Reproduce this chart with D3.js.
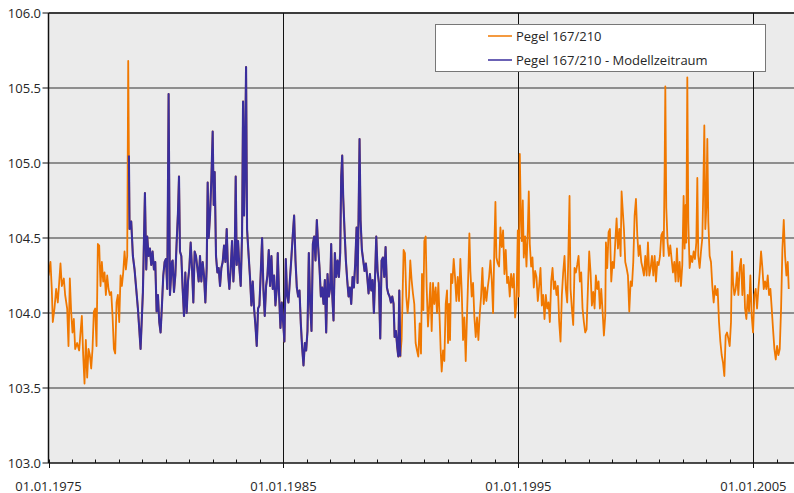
<!DOCTYPE html>
<html lang="de">
<head>
    <meta charset="UTF-8">
    <title>Pegel 167/210</title>
    <script src="https://d3js.org/d3.v7.min.js"></script>
    <style>
        body {
            margin: 0;
            background-color: #ffffff;
            font-family: "Open Sans", Arial, sans-serif;
        }
        svg text {
            fill: #262626;
        }
    </style>
</head>
<body>
    <div id="chart"></div>

    <script>
        // Wasserstand Pegel 167/210 [Jahr, m]
        const pegel = [
            [1975.000,104.25],[1975.084,104.34],[1975.140,104.16],[1975.183,103.94],[1975.254,104.03],[1975.325,104.16],[1975.396,104.07],[1975.510,104.33],
            [1975.567,104.18],[1975.652,104.23],[1975.709,104.12],[1975.794,104.03],[1975.851,103.78],[1975.908,104.23],[1975.964,104.01],[1976.021,103.87],
            [1976.078,103.96],[1976.135,103.76],[1976.220,103.80],[1976.305,103.75],[1976.362,103.87],[1976.419,103.98],[1976.476,103.72],[1976.533,103.53],
            [1976.589,103.82],[1976.646,103.57],[1976.703,103.76],[1976.760,103.72],[1976.817,103.63],[1976.873,103.76],[1976.930,104.01],[1976.987,104.03],
            [1977.044,103.78],[1977.101,104.46],[1977.158,104.45],[1977.214,104.18],[1977.271,104.34],[1977.328,104.21],[1977.385,104.27],[1977.442,104.12],
            [1977.498,104.25],[1977.555,104.16],[1977.612,104.12],[1977.669,104.14],[1977.726,103.98],[1977.783,103.76],[1977.839,103.73],[1977.896,104.07],
            [1977.953,104.12],[1978.010,103.94],[1978.067,104.25],[1978.123,104.18],[1978.180,104.27],[1978.237,104.41],[1978.294,104.29],[1978.351,104.38],
            [1978.393,105.68],[1978.422,105.05],[1978.450,104.56],[1978.521,104.61],[1978.592,104.38],[1978.663,104.29],[1978.734,104.16],[1978.805,104.03],
            [1978.919,103.76],[1979.018,104.14],[1979.104,104.80],[1979.160,104.29],[1979.203,104.51],[1979.260,104.38],[1979.317,104.43],[1979.373,104.32],
            [1979.430,104.41],[1979.487,104.29],[1979.544,104.34],[1979.601,104.01],[1979.658,104.12],[1979.714,103.94],[1979.771,103.87],[1979.828,104.05],
            [1979.885,104.25],[1979.942,104.34],[1979.998,104.36],[1980.055,104.16],[1980.112,105.46],[1980.169,104.12],[1980.254,104.34],
            [1980.284,104.35],[1980.340,104.14],[1980.397,104.25],[1980.454,104.47],[1980.511,104.67],[1980.554,104.91],[1980.596,104.41],[1980.653,104.38],
            [1980.710,104.16],[1980.767,103.98],[1980.823,104.27],[1980.880,104.00],[1980.937,104.21],[1980.994,104.30],[1981.051,104.47],[1981.108,104.30],
            [1981.164,104.07],[1981.221,104.41],[1981.278,104.38],[1981.335,104.30],[1981.392,104.21],[1981.448,104.38],[1981.505,104.21],[1981.562,104.34],
            [1981.619,104.25],[1981.676,104.07],[1981.733,104.30],[1981.775,104.87],[1981.818,104.50],[1981.875,104.65],[1981.931,104.89],[1981.988,105.21],
            [1982.031,104.72],[1982.073,104.94],[1982.130,104.38],[1982.187,104.27],[1982.244,104.30],[1982.301,104.18],[1982.358,104.30],[1982.414,104.34],
            [1982.471,104.45],[1982.528,104.34],[1982.585,104.56],[1982.642,104.27],[1982.698,104.16],[1982.755,104.30],[1982.812,104.48],[1982.869,104.21],
            [1982.926,104.38],[1982.968,104.91],[1983.011,104.32],[1983.068,104.48],[1983.125,104.30],[1983.181,104.18],[1983.238,104.52],[1983.281,105.41],
            [1983.323,104.65],[1983.366,105.05],[1983.409,105.64],[1983.451,104.56],[1983.508,104.41],[1983.579,104.23],[1983.636,104.05],[1983.693,104.21],
            [1983.750,104.03],[1983.806,103.92],[1983.863,103.78],[1983.920,104.03],[1983.977,104.05],[1984.034,104.27],[1984.091,104.50],[1984.147,104.16],
            [1984.204,103.98],[1984.261,104.18],[1984.318,104.25],[1984.375,104.42],[1984.431,104.18],[1984.488,104.38],[1984.545,104.16],[1984.602,104.25],
            [1984.659,104.05],[1984.715,104.16],[1984.758,104.40],[1984.815,104.12],[1984.872,103.90],[1984.929,104.07],[1984.985,103.94],[1985.042,103.81],
            [1985.099,104.36],[1985.156,104.12],[1985.213,104.07],[1985.270,104.21],[1985.326,104.34],[1985.397,104.52],[1985.454,104.65],
            [1985.512,104.35],[1985.569,104.17],[1985.626,104.11],[1985.683,104.15],[1985.739,103.93],[1985.796,103.77],[1985.853,103.65],[1985.910,103.80],
            [1985.967,103.75],[1986.023,103.88],[1986.080,104.40],[1986.137,104.06],[1986.194,103.88],[1986.251,104.46],[1986.308,104.51],[1986.364,104.35],
            [1986.421,104.62],[1986.478,104.44],[1986.535,104.30],[1986.592,104.11],[1986.648,104.17],[1986.705,104.06],[1986.762,104.22],[1986.819,103.87],
            [1986.876,104.26],[1986.933,104.11],[1986.989,104.17],[1987.032,104.46],[1987.074,104.13],[1987.131,103.95],[1987.188,104.40],[1987.245,104.24],
            [1987.302,104.35],[1987.359,104.24],[1987.415,104.40],[1987.458,104.91],[1987.501,105.05],[1987.543,104.77],[1987.600,104.55],[1987.657,104.35],
            [1987.714,104.22],[1987.771,104.11],[1987.827,104.17],[1987.884,104.06],[1987.941,104.24],[1987.998,104.17],[1988.055,104.33],[1988.112,104.57],
            [1988.154,104.20],[1988.197,104.64],[1988.239,105.16],[1988.282,104.62],[1988.339,104.42],[1988.396,104.35],[1988.452,104.28],[1988.509,104.33],
            [1988.566,104.24],[1988.623,104.13],[1988.680,104.26],[1988.737,104.15],[1988.793,104.22],[1988.850,104.00],[1988.907,104.28],[1988.950,104.51],
            [1989.006,104.28],[1989.063,104.20],[1989.120,103.83],[1989.177,104.35],[1989.234,104.37],[1989.291,104.24],[1989.347,104.44],[1989.404,104.17],
            [1989.461,104.13],[1989.518,104.11],[1989.575,104.07],[1989.631,104.11],[1989.688,104.06],[1989.731,103.84],[1989.788,103.88],[1989.844,103.77],
            [1989.887,103.71],[1989.930,104.15],[1989.972,103.71],
            [1990.029,103.82],[1990.114,104.42],[1990.171,104.40],[1990.228,104.11],[1990.285,104.00],[1990.342,104.11],[1990.398,104.35],[1990.455,104.22],
            [1990.512,104.13],[1990.569,104.06],[1990.626,103.80],[1990.684,103.75],[1990.740,103.71],[1990.797,103.93],[1990.854,103.73],[1990.897,104.26],
            [1990.954,104.02],[1990.996,104.48],[1991.053,104.51],[1991.096,104.17],[1991.152,103.91],[1991.209,104.06],[1991.252,104.20],[1991.309,103.88],
            [1991.365,104.20],[1991.422,104.06],[1991.479,104.17],[1991.536,104.00],[1991.593,104.20],[1991.650,103.95],[1991.692,103.75],[1991.735,103.61],
            [1991.792,103.75],[1991.848,103.68],[1991.905,104.06],[1991.962,104.15],[1992.005,103.80],[1992.047,104.06],[1992.090,103.82],[1992.133,104.26],
            [1992.189,104.20],[1992.246,104.36],[1992.303,104.24],[1992.360,104.08],[1992.417,104.24],[1992.473,104.08],[1992.530,104.36],[1992.587,104.15],
            [1992.644,103.82],[1992.701,103.97],[1992.758,103.68],[1992.814,103.99],[1992.871,104.28],[1992.914,104.53],[1992.956,104.28],[1993.013,104.11],
            [1993.070,104.20],[1993.127,103.97],[1993.184,103.84],[1993.240,103.97],[1993.297,103.82],[1993.354,103.99],[1993.411,104.11],[1993.468,104.30],
            [1993.525,104.06],[1993.581,104.17],[1993.638,104.08],[1993.695,104.17],[1993.752,104.24],[1993.809,104.35],[1993.866,104.22],[1993.922,104.00],
            [1993.979,104.46],[1994.022,104.74],[1994.064,104.37],[1994.121,104.33],[1994.178,104.31],[1994.235,104.57],[1994.292,104.44],[1994.348,104.55],
            [1994.405,104.26],[1994.462,104.42],[1994.519,104.20],[1994.576,104.24],[1994.633,104.11],[1994.689,104.26],[1994.746,104.17],[1994.803,104.26],
            [1994.860,103.97],[1994.917,104.06],[1994.974,104.55],[1995.016,104.11],[1995.059,105.06],[1995.101,104.68],[1995.144,104.48],[1995.187,104.75],
            [1995.229,104.37],[1995.286,104.51],[1995.343,104.31],[1995.400,104.55],[1995.442,104.81],[1995.485,104.46],[1995.542,104.31],[1995.599,104.37],
            [1995.655,104.17],[1995.712,104.28],[1995.769,104.24],[1995.826,104.08],
            [1995.884,104.18],[1995.940,104.30],[1995.997,104.05],[1996.054,104.12],[1996.111,103.96],[1996.168,104.12],[1996.225,104.03],[1996.281,104.07],
            [1996.338,103.94],[1996.395,104.21],[1996.452,104.30],[1996.509,104.16],[1996.565,104.21],[1996.622,104.12],[1996.679,104.18],[1996.736,103.94],
            [1996.793,103.81],[1996.850,104.12],[1996.906,104.27],[1996.963,104.38],[1997.020,104.16],[1997.077,104.07],[1997.119,104.34],[1997.176,104.78],
            [1997.219,104.16],[1997.276,104.03],[1997.333,103.92],[1997.389,104.30],[1997.446,104.27],[1997.503,104.32],[1997.560,104.38],[1997.617,104.21],
            [1997.673,104.27],[1997.730,104.03],[1997.787,103.94],[1997.844,103.87],[1997.901,103.89],[1997.958,104.16],[1998.014,104.41],[1998.071,104.27],
            [1998.128,104.05],[1998.185,104.14],[1998.242,104.03],[1998.298,104.25],[1998.355,104.16],[1998.412,104.21],[1998.469,104.03],[1998.526,104.16],
            [1998.583,104.01],[1998.639,103.85],[1998.696,103.98],[1998.725,104.47],[1998.781,104.30],[1998.838,104.54],[1998.895,104.56],[1998.952,104.21],
            [1999.009,104.34],[1999.066,104.30],[1999.122,104.47],[1999.179,104.63],[1999.236,104.43],[1999.293,104.56],[1999.350,104.38],[1999.392,104.81],
            [1999.435,104.70],[1999.492,104.56],[1999.548,104.34],[1999.605,104.30],[1999.662,104.25],[1999.719,104.01],[1999.776,104.21],[1999.833,104.18],
            [1999.889,104.34],[1999.946,104.65],[2000.003,104.76],[2000.060,104.52],[2000.117,104.38],[2000.173,104.45],[2000.230,104.34],[2000.287,104.30],
            [2000.344,104.25],[2000.401,104.38],[2000.458,104.25],[2000.514,104.47],[2000.571,104.25],[2000.628,104.30],[2000.685,104.38],[2000.742,104.25],
            [2000.799,104.38],[2000.855,104.21],[2000.912,104.34],[2000.969,104.32],[2001.026,104.38],[2001.083,104.52],[2001.140,104.54],[2001.182,104.38],
            [2001.225,104.98],[2001.253,105.51],
            [2001.294,104.70],[2001.350,104.47],[2001.407,104.38],[2001.464,104.45],[2001.521,104.36],[2001.578,104.27],[2001.635,104.34],[2001.691,104.21],
            [2001.748,104.43],[2001.805,104.21],[2001.862,104.34],[2001.919,104.18],[2001.975,104.32],[2002.032,104.78],[2002.075,104.43],[2002.118,104.72],
            [2002.146,104.47],[2002.189,105.57],[2002.231,104.61],[2002.288,104.30],[2002.345,104.38],[2002.402,104.34],[2002.458,104.41],[2002.515,104.36],
            [2002.572,104.47],[2002.615,104.90],[2002.657,104.38],[2002.714,104.30],[2002.771,104.41],[2002.828,104.50],[2002.870,104.83],[2002.913,105.25],
            [2002.956,104.56],[2002.998,104.70],[2003.041,105.16],[2003.083,104.61],[2003.140,104.38],[2003.197,104.34],[2003.254,104.18],[2003.311,104.07],
            [2003.368,104.18],[2003.424,104.12],[2003.481,104.16],[2003.538,103.94],[2003.595,103.81],[2003.652,103.72],[2003.708,103.67],[2003.765,103.58],
            [2003.822,103.85],[2003.879,103.87],[2003.936,103.83],[2003.993,103.78],[2004.049,103.94],[2004.092,104.41],[2004.135,104.21],[2004.191,104.12],
            [2004.248,104.16],[2004.305,104.27],[2004.362,104.12],[2004.419,104.30],[2004.475,104.36],[2004.532,104.12],[2004.589,104.32],[2004.646,104.03],
            [2004.703,103.96],[2004.760,104.12],[2004.816,104.01],[2004.873,104.25],[2004.930,103.98],[2004.987,103.87],[2005.044,104.12],[2005.101,104.16],
            [2005.157,104.03],[2005.214,104.16],[2005.271,104.27],[2005.328,104.41],[2005.385,104.30],[2005.442,104.16],[2005.498,104.21],[2005.555,104.16],
            [2005.612,104.25],[2005.669,104.12],[2005.726,104.16],[2005.782,104.03],[2005.839,103.89],[2005.896,103.76],[2005.953,103.69],[2006.010,103.78],
            [2006.067,103.72],[2006.123,103.76],[2006.180,104.03],[2006.237,104.43],[2006.294,104.62],[2006.351,104.38],[2006.407,104.25],[2006.464,104.34],
            [2006.507,104.16]
        ];

        // Modellzeitraum (Jahr von / bis)
        const modellzeitraum = [1978.42, 1989.98];

        const yTicks = [103.0, 103.5, 104.0, 104.5, 105.0, 105.5, 106.0];
        const xLabelJahre = [1975, 1985, 1995, 2005];
        const xLabels = ["01.01.1975", "01.01.1985", "01.01.1995", "01.01.2005"];
        const legende = ["Pegel 167/210", "Pegel 167/210 - Modellzeitraum"];
        const farben = ["#f07800", "#3a2e9c"];

        const width = 794;
        const height = 493;
        const margin = { top: 13, right: 0, bottom: 30, left: 48.5 };

        const x = d3.scaleLinear()
            .domain([1975, 2006.73])
            .range([margin.left, width - margin.right]);

        const y = d3.scaleLinear()
            .domain([103, 106])
            .range([height - margin.bottom, margin.top]);

        const svg = d3.select("#chart")
            .append("svg")
            .attr("width", width)
            .attr("height", height);

        // Hintergrund
        svg.append("rect")
            .attr("x", margin.left)
            .attr("y", margin.top)
            .attr("width", width - margin.left - margin.right)
            .attr("height", y(103) - margin.top)
            .attr("fill", "#ebebeb");

        svg.append("clipPath")
            .attr("id", "plot")
            .append("rect")
            .attr("x", margin.left)
            .attr("y", margin.top)
            .attr("width", width - margin.left)
            .attr("height", y(103) - margin.top);

        // horizontale Gitterlinien
        svg.selectAll(".hgrid")
            .data(yTicks.filter(d => d > 103 && d < 106))
            .enter()
            .append("line")
            .attr("class", "hgrid")
            .attr("x1", margin.left)
            .attr("x2", width)
            .attr("y1", d => y(d))
            .attr("y2", d => y(d))
            .attr("stroke", "#6f6f6f")
            .attr("stroke-width", 1.6);

        svg.append("line")
            .attr("x1", margin.left)
            .attr("x2", width)
            .attr("y1", y(106))
            .attr("y2", y(106))
            .attr("stroke", "#3c3c3c")
            .attr("stroke-width", 2);

        // vertikale Gitterlinien
        svg.selectAll(".vgrid")
            .data(xLabelJahre.slice(1))
            .enter()
            .append("line")
            .attr("class", "vgrid")
            .attr("x1", d => Math.round(x(d)) + 0.5)
            .attr("x2", d => Math.round(x(d)) + 0.5)
            .attr("y1", y(106))
            .attr("y2", y(103))
            .attr("stroke", "#111")
            .attr("stroke-width", 1);

        // Linien
        const line = d3.line()
            .x(d => x(d[0]))
            .y(d => y(d[1]));

        const g = svg.append("g").attr("clip-path", "url(#plot)");

        g.append("path")
            .datum(pegel)
            .attr("d", line)
            .attr("fill", "none")
            .attr("stroke", farben[0])
            .attr("stroke-width", 1.8)
            .attr("stroke-linejoin", "round");

        g.append("path")
            .datum(pegel.filter(d => d[0] >= modellzeitraum[0] && d[0] <= modellzeitraum[1]))
            .attr("d", line)
            .attr("fill", "none")
            .attr("stroke", farben[1])
            .attr("stroke-width", 2.1)
            .attr("stroke-linejoin", "round");

        // Achsen
        svg.append("line")
            .attr("x1", margin.left)
            .attr("x2", margin.left)
            .attr("y1", y(106))
            .attr("y2", y(103))
            .attr("stroke", "#111")
            .attr("stroke-width", 1.5);

        svg.append("line")
            .attr("x1", margin.left)
            .attr("x2", width)
            .attr("y1", y(103))
            .attr("y2", y(103))
            .attr("stroke", "#111")
            .attr("stroke-width", 1.5);

        // y-Ticks
        svg.selectAll(".ytick")
            .data(yTicks)
            .enter()
            .append("line")
            .attr("x1", margin.left - 6)
            .attr("x2", margin.left)
            .attr("y1", d => y(d))
            .attr("y2", d => y(d))
            .attr("stroke", "#111")
            .attr("stroke-width", 1);

        svg.selectAll(".ylabel")
            .data(yTicks)
            .enter()
            .append("text")
            .attr("x", 41)
            .attr("y", d => y(d) + 4.6)
            .attr("text-anchor", "end")
            .attr("font-size", "13px")
            .text(d => d.toFixed(1));

        // x-Ticks (jaehrlich)
        svg.selectAll(".xminor")
            .data(d3.range(1975, 2007))
            .enter()
            .append("line")
            .attr("x1", d => Math.round(x(d)) + 0.5)
            .attr("x2", d => Math.round(x(d)) + 0.5)
            .attr("y1", y(103) - 3.5)
            .attr("y2", y(103))
            .attr("stroke", "#111")
            .attr("stroke-width", 1);

        svg.selectAll(".xmajor")
            .data(xLabelJahre)
            .enter()
            .append("line")
            .attr("x1", d => Math.round(x(d)) + 0.5)
            .attr("x2", d => Math.round(x(d)) + 0.5)
            .attr("y1", y(103))
            .attr("y2", y(103) + 5)
            .attr("stroke", "#111")
            .attr("stroke-width", 1);

        svg.selectAll(".xlabel")
            .data(xLabelJahre)
            .enter()
            .append("text")
            .attr("x", d => x(d))
            .attr("y", 490.5)
            .attr("text-anchor", "middle")
            .attr("font-size", "13px")
            .text((d, i) => xLabels[i]);

        // Legende
        const leg = svg.append("g");
        leg.append("rect")
            .attr("x", 435.5)
            .attr("y", 24.5)
            .attr("width", 330)
            .attr("height", 47)
            .attr("fill", "#ffffff")
            .attr("stroke", "#777")
            .attr("stroke-width", 1);

        legende.forEach((name, i) => {
            const ly = 36 + i * 24;
            leg.append("line")
                .attr("x1", 488)
                .attr("x2", 512)
                .attr("y1", ly)
                .attr("y2", ly)
                .attr("stroke", farben[i])
                .attr("stroke-width", 1.5);
            leg.append("text")
                .attr("x", 516)
                .attr("y", ly + 4.6)
                .attr("font-size", "13px")
                .attr("fill", "#222")
                .text(name);
        });
    </script>
</body>
</html>
